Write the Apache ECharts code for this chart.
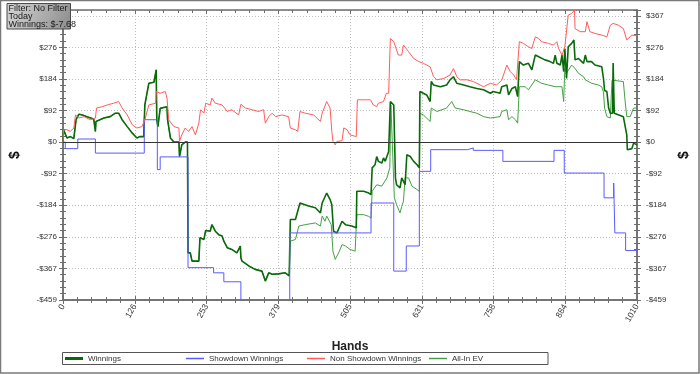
<!DOCTYPE html>
<html><head><meta charset="utf-8">
<script src="https://cdn.jsdelivr.net/npm/echarts@6/dist/echarts.min.js"></script>
<style>html,body{margin:0;padding:0;background:#fff}#c{width:700px;height:374px}</style>
</head><body><div id="c"></div>
<script>
const seriesNames = ['Winnings','Showdown Winnings','Non Showdown Winnings','All-In EV'];
const yTickLabels = ['-$459','-$367','-$276','-$184','-$92','$0','$92','$184','$276','$367'];
const infoLines = ['Filter: No Filter','Today','Winnings: $-7.68'];

const winnings = [[0,0],[1,36],[7,12],[13,16],[19,10],[21,14],[23,65],[28,81],[34,79],[42,74],[54,67],[56,67],[57,31],[58,60],[60,65],[72,70],[83,74],[92,84],[98,84],[104,65],[113,45],[122,26],[130,12],[135,16],[142,16],[144,108],[151,171],[160,174],[163,176],[164,210],[165,65],[167,45],[171,98],[183,103],[184,65],[189,12],[195,0],[204,0],[205,-42],[209,-8],[215,0],[219,0],[220,-322],[224,-322],[227,-346],[239,-346],[241,-278],[248,-283],[251,-257],[259,-259],[262,-240],[265,-244],[268,-259],[274,-269],[280,-273],[283,-288],[289,-307],[297,-312],[306,-322],[312,-302],[313,-336],[315,-346],[327,-360],[338,-370],[350,-375],[356,-404],[362,-380],[368,-384],[379,-383],[391,-380],[398,-389],[400,-225],[409,-225],[417,-177],[420,-182],[432,-186],[444,-191],[453,-206],[456,-177],[464,-148],[470,-167],[473,-182],[476,-259],[482,-264],[491,-230],[497,-240],[508,-244],[516,-249],[517,-143],[529,-143],[538,-148],[542,-153],[544,-75],[549,-66],[552,-42],[555,-56],[561,-61],[564,-46],[567,-56],[573,-27],[576,118],[579,123],[582,108],[585,-104],[587,-124],[593,-133],[596,-104],[599,-99],[602,-124],[605,-37],[611,-42],[617,-56],[623,-66],[627,-75],[628,147],[634,142],[640,137],[646,118],[648,176],[652,166],[664,161],[675,166],[681,181],[687,190],[693,171],[705,166],[716,161],[728,156],[740,152],[752,142],[757,147],[769,142],[772,161],[781,166],[784,137],[790,156],[796,161],[800,132],[803,234],[810,224],[819,229],[825,210],[831,253],[837,248],[848,239],[857,234],[863,229],[866,253],[869,229],[875,224],[878,253],[881,205],[883,272],[886,185],[889,277],[895,287],[899,297],[901,239],[907,243],[916,229],[919,253],[922,234],[930,234],[936,224],[948,219],[951,185],[953,150],[957,147],[960,100],[963,84],[967,84],[968,230],[970,84],[986,74],[989,70],[992,21],[993,-22],[1001,-19],[1004,-3],[1010,-8]];

const showdown = [[0,0],[4,-19],[26,9],[57,-32],[143,65],[166,-80],[171,-43],[220,-365],[265,-380],[283,-406],[313,-520],[399,-264],[542,-177],[582,-375],[604,-302],[627,-85],[647,-22],[712,-17],[722,-24],[774,-56],[864,-24],[882,-90],[952,-162],[969,-119],[971,-264],[990,-315],[1010,-315]];

const nonShowdown = [[0,0],[1,36],[7,36],[13,31],[19,41],[22,79],[28,70],[37,74],[48,65],[57,70],[59,99],[69,103],[78,108],[89,113],[98,118],[104,99],[113,79],[122,50],[130,41],[139,45],[145,70],[151,108],[163,113],[164,147],[171,142],[180,147],[183,128],[186,65],[195,45],[204,41],[205,2],[209,21],[215,41],[221,31],[227,45],[233,21],[239,55],[242,94],[248,84],[251,113],[259,108],[262,128],[268,113],[280,108],[289,89],[297,94],[309,79],[313,110],[321,99],[333,94],[344,89],[353,94],[356,55],[362,74],[368,84],[374,74],[385,79],[397,74],[400,41],[409,36],[413,31],[417,89],[426,84],[441,79],[453,60],[456,84],[464,118],[470,99],[473,31],[475,2],[479,-8],[482,2],[491,4],[494,41],[500,36],[505,21],[516,16],[518,123],[541,123],[546,108],[552,103],[555,113],[564,118],[569,142],[573,142],[576,301],[582,292],[590,253],[596,253],[599,282],[608,263],[617,243],[626,234],[634,229],[646,219],[652,190],[658,181],[670,185],[681,195],[687,214],[693,190],[699,181],[711,181],[722,176],[740,161],[752,171],[763,166],[772,180],[781,224],[787,205],[793,195],[798,181],[803,292],[810,287],[819,277],[825,272],[831,306],[837,301],[842,292],[854,287],[863,282],[869,292],[872,272],[878,253],[883,277],[889,369],[895,374],[900,384],[901,330],[910,321],[919,321],[922,350],[927,321],[936,316],[948,311],[957,306],[963,340],[968,345],[977,340],[986,330],[992,297],[1001,311],[1010,309]];

// All-In EV follows Winnings until hand 400, then separates
const allInEvTail = [[400,-288],[403,-288],[409,-283],[415,-244],[426,-240],[444,-235],[453,-244],[456,-215],[461,-230],[464,-215],[472,-240],[475,-317],[479,-341],[485,-322],[491,-298],[497,-302],[505,-312],[514,-317],[516,-317],[517,-211],[529,-211],[538,-216],[542,-221],[544,-143],[552,-124],[561,-128],[570,-104],[575,-75],[577,108],[580,108],[583,-162],[587,-182],[593,-206],[596,-187],[599,-172],[602,-104],[608,-104],[614,-128],[623,-138],[627,-143],[628,84],[634,79],[646,60],[648,99],[658,89],[675,99],[684,118],[690,99],[705,94],[716,89],[728,84],[740,74],[752,70],[769,74],[772,89],[781,94],[784,65],[790,74],[796,65],[800,55],[803,161],[813,161],[819,152],[831,181],[842,171],[854,166],[866,161],[878,161],[881,118],[883,215],[886,200],[889,205],[895,224],[901,214],[907,200],[916,190],[919,181],[930,171],[942,166],[948,161],[951,145],[953,99],[957,74],[963,70],[966,180],[986,176],[989,120],[992,74],[998,74],[1004,99],[1010,99]];
const evSplitHand = 400;

const X_MIN = 0, X_MAX = 1010, X_INT = 126.25;
const Y_MIN = -459, Y_MAX = 384, Y_INT = 91.8;

const font = "'Liberation Sans', Arial, sans-serif";
const axisGray = '#6e6e6e';
const colors = ['#0a6a0a', '#5a5aff', '#ff5c5c', '#45a045'];

function yLabel(v){ const k = Math.round(v / Y_INT) + 5; return yTickLabels[k] !== undefined ? yTickLabels[k] : ''; }

function xAxisBase(extra){
  return Object.assign({
    type:'value', min:X_MIN, max:X_MAX, interval:X_INT,
    axisLine:{show:true, onZero:false, lineStyle:{color:axisGray, width:1.5}},
    axisTick:{show:true, length:4, lineStyle:{color:axisGray}},
    minorTick:{show:true, splitNumber:5, length:3, lineStyle:{color:axisGray}},
    axisLabel:{show:false}, splitLine:{show:false}
  }, extra);
}
function yAxisBase(extra){
  return Object.assign({
    type:'value', min:Y_MIN, max:Y_MAX, interval:Y_INT,
    axisLine:{show:true, onZero:false, lineStyle:{color:axisGray, width:1.5}},
    axisTick:{show:true, length:4, lineStyle:{color:axisGray}},
    minorTick:{show:true, splitNumber:5, length:3, lineStyle:{color:axisGray}},
    axisLabel:{show:false}, splitLine:{show:false}
  }, extra);
}

const chart = echarts.init(document.getElementById('c'), null, {renderer:'canvas'});
const evData = winnings.filter(p => p[0] < evSplitHand).concat(allInEvTail);

const legendX = [65, 186, 307, 429];
const legends = seriesNames.map((n, i) => ({
  data:[n], left:legendX[i], top:353.5, padding:0, itemWidth:18, itemHeight: i===0 ? 3 : 1.5,
  icon:'rect', selectedMode:false,
  textStyle:{fontFamily:font, fontSize:8, color:'#333', lineHeight:10}
}));

chart.setOption({
  animation:false,
  backgroundColor:'#ffffff',
  grid:{left:62.5, right:63, top:10, bottom:74, containLabel:false},
  legend: legends,
  xAxis:[
    xAxisBase({position:'bottom',
      axisLabel:{show:true, rotate:60, margin:5, fontFamily:font, fontSize:8.5, color:'#333', formatter:v=>String(Math.round(v))},
      splitLine:{show:true, lineStyle:{color:'#bdbdbd', type:[1,2], width:1}},
      name:'Hands', nameLocation:'middle', nameGap:41,
      nameTextStyle:{fontFamily:font, fontSize:12, fontWeight:'bold', color:'#222'}}),
    xAxisBase({position:'bottom', axisTick:{show:true, inside:true, length:4, lineStyle:{color:axisGray}}}),
    xAxisBase({position:'top', axisTick:{show:true, inside:true, length:4, lineStyle:{color:axisGray}}})
  ],
  yAxis:[
    yAxisBase({position:'left',
      axisLabel:{show:true, margin:6, fontFamily:font, fontSize:8, color:'#333', formatter:yLabel, showMaxLabel:false},
      splitLine:{show:true, lineStyle:{color:'#bdbdbd', type:[1,2], width:1}},
      name:'$', nameLocation:'middle', nameGap:41, nameRotate:90,
      nameTextStyle:{fontFamily:font, fontSize:14, fontWeight:'bold', color:'#111'}}),
    yAxisBase({position:'right',
      axisLabel:{show:true, margin:9, fontFamily:font, fontSize:8, color:'#333', formatter:yLabel, showMaxLabel:false},
      name:'$', nameLocation:'middle', nameGap:40, nameRotate:90,
      nameTextStyle:{fontFamily:font, fontSize:14, fontWeight:'bold', color:'#111'}}),
    yAxisBase({position:'left', offset:0, axisTick:{show:true, inside:true, length:4, lineStyle:{color:axisGray}}}),
    yAxisBase({position:'right', offset:0, axisTick:{show:true, inside:true, length:4, lineStyle:{color:axisGray}}})
  ],
  series:[
    {name:seriesNames[3], type:'line', data:evData, showSymbol:false, symbol:'none', color:colors[3],
     lineStyle:{width:1, color:colors[3]}, z:2},
    {name:seriesNames[0], type:'line', data:winnings, showSymbol:false, symbol:'none', color:colors[0],
     lineStyle:{width:1.6, color:colors[0]}, z:3,
     markLine:{silent:true, symbol:'none', label:{show:false}, lineStyle:{color:'#333', width:1, type:'solid'}, data:[{yAxis:0}]}},
    {name:seriesNames[1], type:'line', step:'end', data:showdown, showSymbol:false, symbol:'none', color:colors[1],
     lineStyle:{width:1, color:colors[1]}, z:4},
    {name:seriesNames[2], type:'line', data:nonShowdown, showSymbol:false, symbol:'none', color:colors[2],
     lineStyle:{width:1, color:colors[2]}, z:4}
  ],
  graphic:[
    {type:'rect', z:100, zlevel:1, shape:{x:0.5, y:0.5, width:698.5, height:372.5}, style:{fill:null, stroke:'#7a7a7a', lineWidth:1.5}, silent:true},
    {type:'rect', z:100, zlevel:1, shape:{x:62.5, y:352.5, width:485.5, height:12}, style:{fill:null, stroke:'#555', lineWidth:1}, silent:true},
    {type:'rect', z:100, zlevel:1, shape:{x:7, y:3.5, width:63.5, height:25.5},
     style:{fill:new echarts.graphic.LinearGradient(0,0,1,1,[{offset:0,color:'#d6d6d6'},{offset:1,color:'#8c8c8c'}]), stroke:'#4a4a4a', lineWidth:1}, silent:true},
    {type:'text', z:101, zlevel:1, x:8.5, y:3.6, style:{text:infoLines[0], font:"9px 'Liberation Sans', Arial, sans-serif", fill:'#1a1a1a'}, silent:true},
    {type:'text', z:101, zlevel:1, x:8.5, y:12, style:{text:infoLines[1], font:"9px 'Liberation Sans', Arial, sans-serif", fill:'#1a1a1a'}, silent:true},
    {type:'text', z:101, zlevel:1, x:8.5, y:20.4, style:{text:infoLines[2], font:"9px 'Liberation Sans', Arial, sans-serif", fill:'#1a1a1a'}, silent:true}
  ]
});
</script></body></html>
